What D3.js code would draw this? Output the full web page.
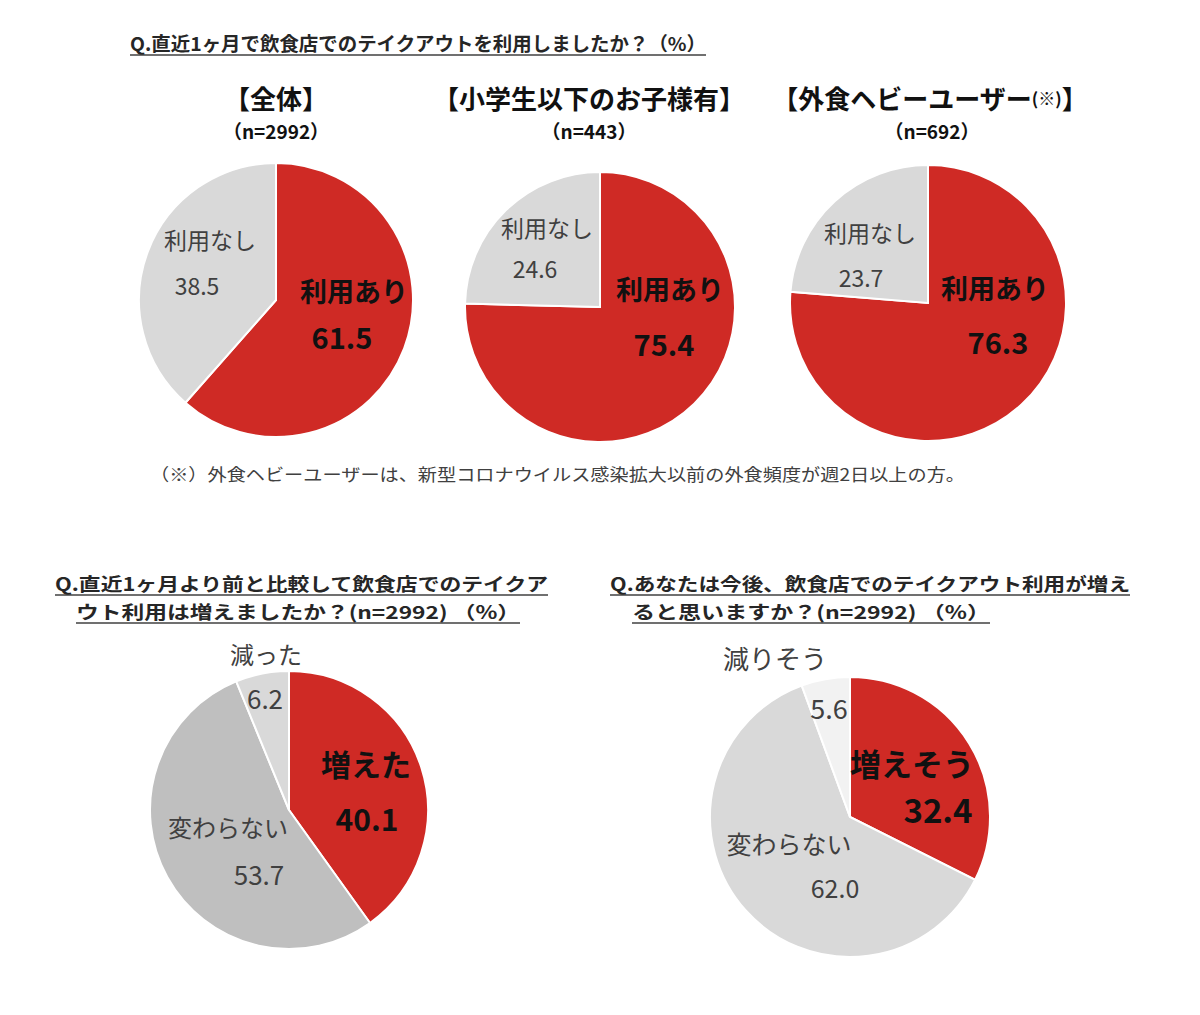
<!DOCTYPE html>
<html>
  <head>
    <meta charset="utf-8" />
    <title>Takeout pies</title>
    <script src="https://d3js.org/d3.v7.min.js"></script>
    <style>
      body { margin:0; background:#fff; }
      text { font-family:"Noto Sans CJK JP", "Noto Sans", sans-serif; }
    </style>
  </head>
  <body>
    <svg id="chart"></svg>
    <script>
      // data
      var topTitle = "Q.直近1ヶ月で飲食店でのテイクアウトを利用しましたか？（%）";
      var groupNames = ["【全体】", "【小学生以下のお子様有】", "【外食ヘビーユーザー"];
      var groupN = ["（n=2992）", "（n=443）", "（n=692）"];
      var useCategories = ["利用あり", "利用なし"];
      var useValues = [[61.5, 38.5], [75.4, 24.6], [76.3, 23.7]];
      var footnote = "（※）外食ヘビーユーザーは、新型コロナウイルス感染拡大以前の外食頻度が週2日以上の方。";

      var pastTitle = ["Q.直近1ヶ月より前と比較して飲食店でのテイクア", "ウト利用は増えましたか？(n=2992) （%）"];
      var pastCategories = ["増えた", "変わらない", "減った"];
      var pastValues = [40.1, 53.7, 6.2];

      var futureTitle = ["Q.あなたは今後、飲食店でのテイクアウト利用が増え", "ると思いますか？(n=2992) （%）"];
      var futureCategories = ["増えそう", "変わらない", "減りそう"];
      var futureValues = [32.4, 62.0, 5.6];

      var width = 1200, height = 1015;
      var red = "#cf2a25";

      var svg = d3.select("#chart").attr("width", width).attr("height", height);

      var pie = d3.pie().sort(null).value(function(d) { return d; });

      // layout of each pie: centre, radius, colours, label spots (offset from centre)
      var pies = [
        { cx: 276, cy: 300, r: 137, values: useValues[0], cats: useCategories, colors: [red, "#d9d9d9"],
          cat: [[78, -10], [-66, -61]], val: [[66, 36], [-79, -15]],
          catSize: [27, 23], valSize: [29, 23] },
        { cx: 600, cy: 307, r: 135, values: useValues[1], cats: useCategories, colors: [red, "#d9d9d9"],
          cat: [[70, -19], [-53, -80]], val: [[64, 36], [-65, -39]],
          catSize: [27, 23], valSize: [29, 23] },
        { cx: 928, cy: 303, r: 138, values: useValues[2], cats: useCategories, colors: [red, "#d9d9d9"],
          cat: [[67, -16], [-58, -71]], val: [[70, 38], [-67, -26]],
          catSize: [27, 23], valSize: [29, 23] },
        { cx: 289, cy: 810, r: 139, values: pastValues, cats: pastCategories, colors: [red, "#bfbfbf", "#d9d9d9"],
          cat: [[77, -47], [-61, 16], [-23, -157]], val: [[78, 8], [-30, 63], [-24, -113]],
          catSize: [30, 24, 24], valSize: [30, 26, 26] },
        { cx: 850, cy: 817, r: 140, values: futureValues, cats: futureCategories, colors: [red, "#d9d9d9", "#f2f2f2"],
          cat: [[62, -55], [-61, 26], [-75, -160]], val: [[88, -8], [-15, 70], [-21, -110]],
          catSize: [31, 25, 26], valSize: [33, 25, 27] }
      ];

      var arc = d3.arc().innerRadius(0);

      pies.forEach(function(p) {
        var g = svg.append("g").attr("transform", "translate(" + p.cx + "," + p.cy + ")");
        arc.outerRadius(p.r);
        g.selectAll("path")
          .data(pie(p.values))
          .enter().append("path")
          .attr("d", arc)
          .attr("fill", function(d, i) { return p.colors[i]; })
          .attr("stroke", "#fff")
          .attr("stroke-width", 2);

        p.values.forEach(function(v, i) {
          var bold = i === 0;
          g.append("text")
            .attr("x", p.cat[i][0]).attr("y", p.cat[i][1])
            .attr("text-anchor", "middle").attr("dominant-baseline", "central")
            .attr("font-size", p.catSize[i])
            .attr("font-weight", bold ? 700 : 400)
            .attr("fill", bold ? "#111" : "#404040")
            .text(p.cats[i]);
          g.append("text")
            .attr("x", p.val[i][0]).attr("y", p.val[i][1])
            .attr("text-anchor", "middle").attr("dominant-baseline", "central")
            .attr("font-size", p.valSize[i])
            .attr("font-weight", bold ? 700 : 400)
            .attr("fill", bold ? "#111" : "#404040")
            .text(d3.format(".1f")(v));
        });
      });

      // underlined titles, squeezed to the width they have in the picture
      function title(str, x, y, w, size) {
        svg.append("text")
          .attr("x", x).attr("y", y)
          .attr("font-size", size).attr("font-weight", 700)
          .attr("fill", "#262626")
          .attr("textLength", w).attr("lengthAdjust", "spacingAndGlyphs")
          .text(str);
        svg.append("line")
          .attr("x1", x).attr("x2", x + w)
          .attr("y1", y + 4).attr("y2", y + 4)
          .attr("stroke", "#404040").attr("stroke-width", 1.3);
      }

      title(topTitle, 130, 51, 576, 19);
      title(pastTitle[0], 55, 591, 493, 18);
      title(pastTitle[1], 76, 619, 444, 18);
      title(futureTitle[0], 610, 591, 520, 18);
      title(futureTitle[1], 632, 619, 358, 18);

      // group headers above the top pies
      var headX = [276, 589, 930];
      groupNames.forEach(function(name, i) {
        var t = svg.append("text")
          .attr("x", headX[i]).attr("y", 97)
          .attr("text-anchor", "middle").attr("dominant-baseline", "central")
          .attr("font-size", 26).attr("font-weight", 700).attr("fill", "#111");
        t.append("tspan").text(name);
        if (i === 2) {
          t.append("tspan").attr("font-size", 17).text("(※)");
          t.append("tspan").text("】");
        }
        svg.append("text")
          .attr("x", headX[i] + (i === 2 ? 2 : 0)).attr("y", 130)
          .attr("text-anchor", "middle").attr("dominant-baseline", "central")
          .attr("font-size", 19).attr("font-weight", 700).attr("fill", "#111")
          .text(groupN[i]);
      });

      svg.append("text")
        .attr("x", 150).attr("y", 473)
        .attr("dominant-baseline", "central")
        .attr("font-size", 17).attr("fill", "#404040")
        .attr("textLength", 815).attr("lengthAdjust", "spacingAndGlyphs")
        .text(footnote);
    </script>
  </body>
</html>
